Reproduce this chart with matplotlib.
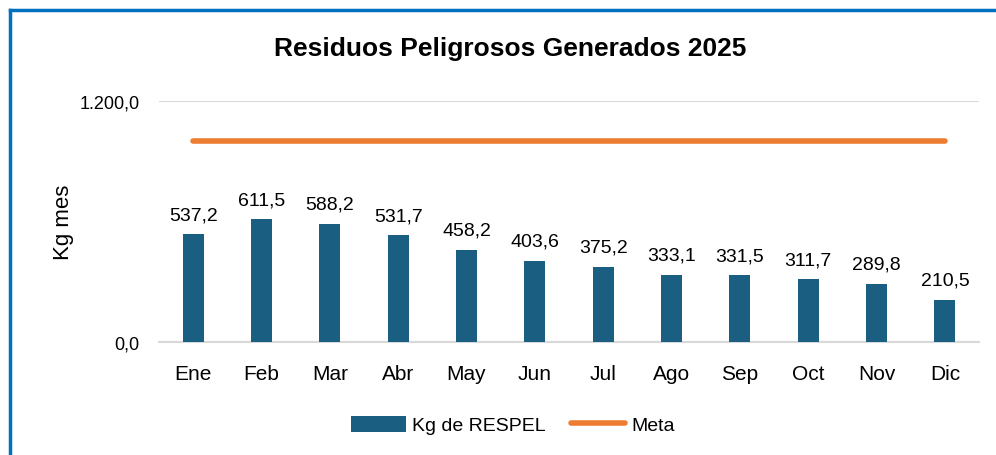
import numpy as np
import matplotlib
matplotlib.use("Agg")
import matplotlib.pyplot as plt
from matplotlib.lines import Line2D

plt.rcParams['font.family'] = ['Liberation Sans', 'DejaVu Sans']

meses = ['Ene', 'Feb', 'Mar', 'Abr', 'May', 'Jun', 'Jul', 'Ago', 'Sep', 'Oct', 'Nov', 'Dic']
kg_respel = [537.2, 611.5, 588.2, 531.7, 458.2, 403.6, 375.2, 333.1, 331.5, 311.7, 289.8, 210.5]
meta = [1000] * 12
y_ticks = [0, 1200]

bar_color = '#1a5f82'
meta_color = '#ed7d31'
grid_color = '#d9d9d9'

fig = plt.figure(figsize=(9.96, 4.56), dpi=100)
ax = fig.add_axes([0.1596, 0.2478, 0.8234, 0.5285])

x = np.arange(len(meses))
bars = ax.bar(x, kg_respel, width=0.31, color=bar_color, label='Kg de RESPEL', zorder=3)
meta_line, = ax.plot(x, meta, color=meta_color, linewidth=4, solid_capstyle='round', label='Meta', zorder=4)

for xi, v in zip(x, kg_respel):
    ax.annotate(f'{v:.1f}'.replace('.', ','), (xi, v), xytext=(0, 8), textcoords='offset points',
                ha='center', va='bottom', fontsize=14)

ax.set_xlim(-0.5, len(meses) - 0.5)
ax.set_ylim(0, 1200)
ax.set_yticks(y_ticks)
ax.set_yticklabels([f'{t:,.1f}'.replace(',', 'X').replace('.', ',').replace('X', '.') for t in y_ticks])
ax.set_xticks(x)
ax.set_xticklabels(meses)
ax.tick_params(axis='x', length=0, labelsize=15, pad=16)
ax.tick_params(axis='y', length=0, labelsize=13, pad=14)
ax.yaxis.grid(True, color=grid_color, linewidth=1.5, zorder=0)
for s in ['top', 'right', 'left']:
    ax.spines[s].set_visible(False)
ax.spines['bottom'].set_color(grid_color)
ax.spines['bottom'].set_linewidth(1.5)

ax.set_ylabel('Kg mes', fontsize=16)
ax.yaxis.set_label_coords(-0.104, 0.5)

fig.text(0.512, 0.893, 'Residuos Peligrosos Generados 2025', ha='center', va='center',
         fontsize=19, fontweight='bold')

fig.legend(handles=[bars, meta_line], labels=['Kg de RESPEL', 'Meta'], loc='center',
           bbox_to_anchor=(0.515, 0.066), ncol=2, frameon=False, fontsize=14,
           handlelength=2.8, handleheight=0.9, columnspacing=1.3, handletextpad=0.3)

# marco azul del grafico (solo se ven el borde izquierdo y el superior)
borde = '#0070c0'
fig.add_artist(Line2D([10 / 996, 10 / 996], [0, 1 - 11 / 456], transform=fig.transFigure,
                      color=borde, linewidth=2.5))
fig.add_artist(Line2D([10 / 996, 1], [1 - 11 / 456, 1 - 11 / 456], transform=fig.transFigure,
                      color=borde, linewidth=2.5))

fig.savefig('out.png', dpi=100)
